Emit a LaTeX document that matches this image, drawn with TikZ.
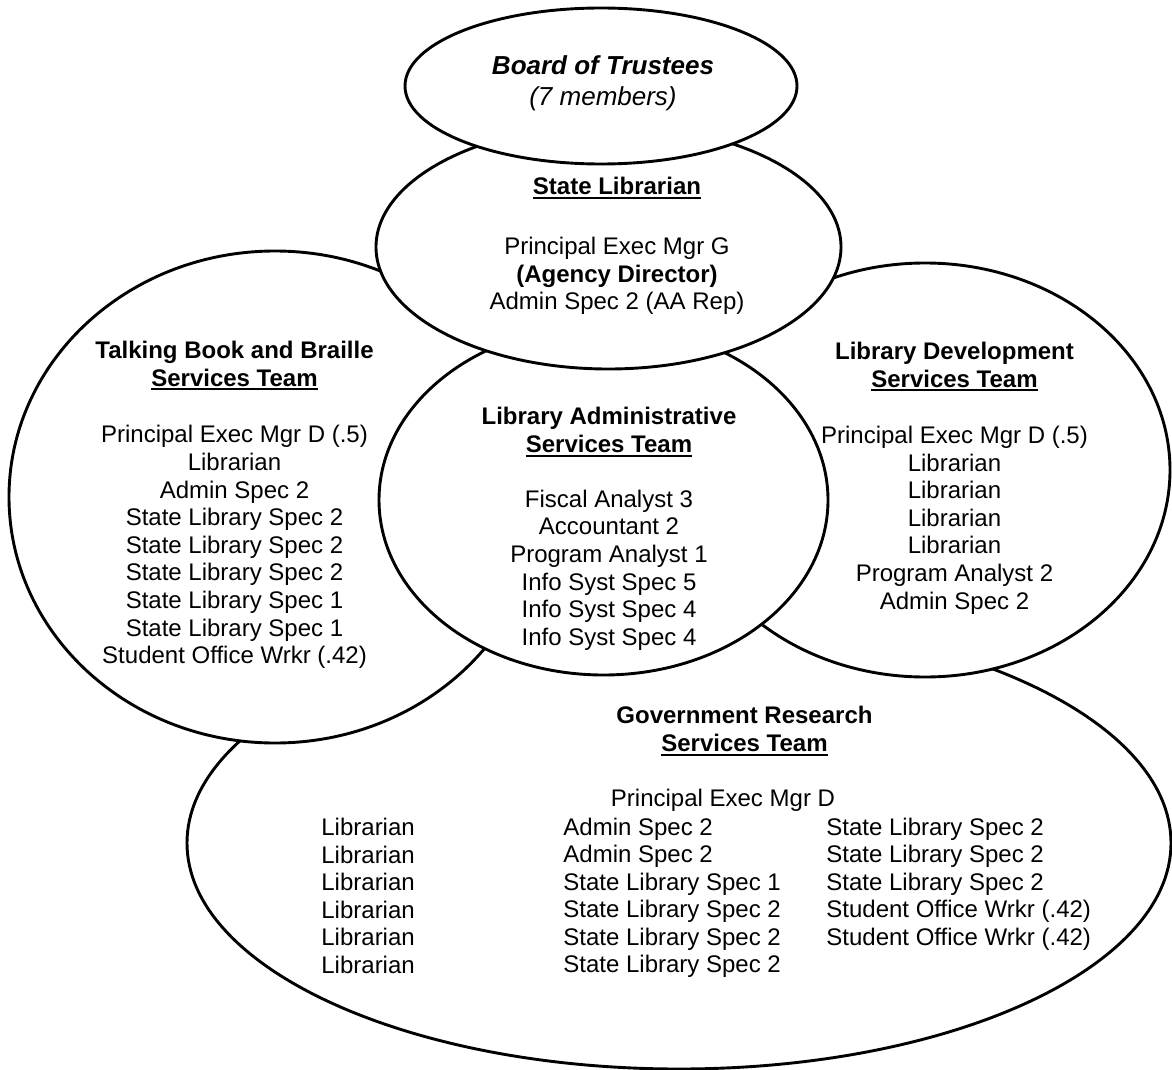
\documentclass[tikz,border=0pt]{standalone}
\usepackage{fontspec}
\setmainfont{Liberation Sans}
\usetikzlibrary{shapes.geometric}
\newcommand{\myul}[1]{\setbox0=\hbox{#1}\rlap{\rule[-2.2pt]{\wd0}{1pt}}\box0}
\begin{document}
\begin{tikzpicture}[x=0.5pt, y=-0.5pt,
  oval/.style={ellipse, draw, fill=white, line width=1.45pt, inner sep=0pt},
  txt/.style={align=center, inner sep=0pt, font=\fontsize{12}{13.8}\selectfont},
  ttl/.style={align=center, inner sep=0pt, font=\fontsize{12}{13.6}\selectfont\bfseries},
  colx/.style={align=left, inner sep=0pt, anchor=west, font=\fontsize{12}{13.75}\selectfont}]
\useasboundingbox (0,0) rectangle (1172,1070);
% ellipses, bottom to top
\node[oval, minimum width=492pt, minimum height=226pt] (gov) at (679,843) {};
\node[oval, minimum width=266pt, minimum height=246pt] (tb) at (275,497) {};
\node[oval, minimum width=245pt, minimum height=207pt] (ld) at (925,470) {};
\node[oval, minimum width=224.5pt, minimum height=175pt] (adm) at (603.5,500) {};
\node[oval, minimum width=232.5pt, minimum height=122pt] (sl) at (608.5,247) {};
\node[oval, minimum width=196pt, minimum height=78pt] (bot) at (601,86) {};
% Board of Trustees
\node[align=center, inner sep=0pt, font=\fontsize{13}{15.5}\selectfont\itshape] (botT) at (603,83)
  {\textbf{Board of Trustees}\\(7 members)};
% State Librarian
\node[ttl] (slT) at (617,188) {\myul{State Librarian}};
\node[txt] (slL) at (617,276) {Principal Exec Mgr G\\\textbf{(Agency Director)}\\Admin Spec 2 (AA Rep)};
% Talking Book
\node[ttl] (tbT) at (234.5,366) {Talking Book and Braille\\\myul{Services Team}};
\node[txt] (tbL) at (234.5,547) {Principal Exec Mgr D (.5)\\Librarian\\Admin Spec 2\\State Library Spec 2\\State Library Spec 2\\State Library Spec 2\\State Library Spec 1\\State Library Spec 1\\Student Office Wrkr (.42)};
% Library Development
\node[ttl] (ldT) at (954.5,367) {Library Development\\\myul{Services Team}};
\node[txt] (ldL) at (954.5,520) {Principal Exec Mgr D (.5)\\Librarian\\Librarian\\Librarian\\Librarian\\Program Analyst 2\\Admin Spec 2};
% Library Administrative
\node[ttl] (admT) at (609,432) {Library Administrative\\\myul{Services Team}};
\node[txt] (admL) at (609,570) {Fiscal Analyst 3\\Accountant 2\\Program Analyst 1\\Info Syst Spec 5\\Info Syst Spec 4\\Info Syst Spec 4};
% Government Research
\node[ttl] (govT) at (744.5,731) {Government Research\\\myul{Services Team}};
\node[txt] (govM) at (723,800) {Principal Exec Mgr D};
\node[colx] (govA) at (321,896) {Librarian\\Librarian\\Librarian\\Librarian\\Librarian\\Librarian};
\node[colx] (govB) at (563,898) {Admin Spec 2\\Admin Spec 2\\State Library Spec 1\\State Library Spec 2\\State Library Spec 2\\State Library Spec 2};
\node[colx] (govC) at (826,884) {State Library Spec 2\\State Library Spec 2\\State Library Spec 2\\Student Office Wrkr (.42)\\Student Office Wrkr (.42)};
\end{tikzpicture}
\end{document}
